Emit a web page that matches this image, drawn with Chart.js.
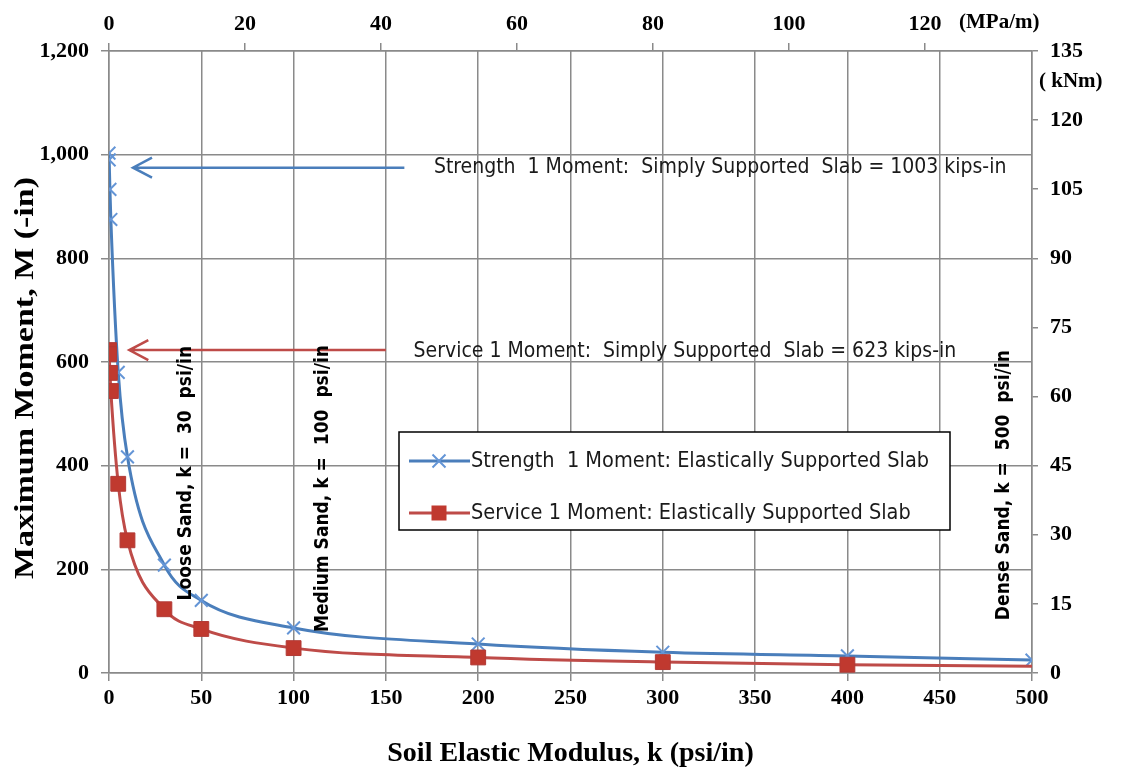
<!DOCTYPE html>
<html>
<head>
<meta charset="utf-8">
<script src="https://cdn.jsdelivr.net/npm/chart.js@4.4.1/dist/chart.umd.min.js"></script>
<style>
  html, body { margin: 0; padding: 0; background: #fff; }
  #chart { display: block; }
</style>
</head>
<body>
<canvas id="chart" width="1121" height="776"></canvas>
<script>
// soil modulus k (psi/in) and moments (kips-in)
const kValues = [0, 0.1, 0.5, 1, 5, 10, 30, 50, 100, 200, 300, 400, 500];
const strengthMoment = [1003, 990, 933, 875, 580, 417, 208, 140, 87, 56, 40, 33, 25];
const serviceMoment = [623, 615, 579, 544, 365, 256, 123, 85, 48, 30, 21, 16, 13];

// simply supported reference values
const strengthSimple = 1003;
const serviceSimple = 623;

// tick labels
const psiTicks = [0, 50, 100, 150, 200, 250, 300, 350, 400, 450, 500];
const mpaTicks = [0, 20, 40, 60, 80, 100, 120];
const momentTicks = [0, 200, 400, 600, 800, 1000, 1200];
const knmTicks = [0, 15, 30, 45, 60, 75, 90, 105, 120, 135];

// sand types marked on the chart
const sandLabels = ["Loose Sand, k =  30  psi/in", "Medium Sand, k =  100  psi/in", "Dense Sand, k =  500  psi/in"];
const sandK = [42, 116, 485];
const sandBottom = [140, 79, 102];

const BLUE = "#4a7ebb";
const RED = "#be4b48";
const GRID = "#8a8a8a";
const serif = "'Liberation Serif', 'Times New Roman', serif";
const narrow = "'Liberation Sans Narrow', 'DejaVu Sans Condensed', sans-serif";

const tickFont = { family: serif, size: 22, weight: "bold" };
const titleFont = { family: serif, size: 28, weight: "bold" };

const fixTicks = arr => scale => { scale.ticks = arr.map(v => ({ value: v })); };

// === arrows, notes, legend ===
const extras = {
  id: "extras",
  afterDraw(chart) {
    const { ctx } = chart;
    const x = chart.scales.x, y = chart.scales.y;

    function arrow(yVal, kFrom, kTo, color) {
      const py = y.getPixelForValue(yVal);
      const x1 = x.getPixelForValue(kFrom), x2 = x.getPixelForValue(kTo);
      ctx.save();
      ctx.strokeStyle = color;
      ctx.lineWidth = 2.5;
      ctx.beginPath();
      ctx.moveTo(x1, py);
      ctx.lineTo(x2, py);
      ctx.moveTo(x2 + 19, py - 10);
      ctx.lineTo(x2, py);
      ctx.lineTo(x2 + 19, py + 10);
      ctx.stroke();
      ctx.restore();
    }
    arrow(975, 160, 13, BLUE);
    arrow(serviceSimple, 150, 11, RED);

    ctx.save();
    ctx.fillStyle = "#1a1a1a";
    ctx.font = "21px " + narrow;
    ctx.textBaseline = "middle";
    ctx.textAlign = "left";
    ctx.fillText("Strength  1 Moment:  Simply Supported  Slab = " + strengthSimple + " kips-in",
      x.getPixelForValue(176), y.getPixelForValue(975));
    ctx.fillText("Service 1 Moment:  Simply Supported  Slab = " + serviceSimple + " kips-in",
      x.getPixelForValue(165), y.getPixelForValue(serviceSimple) + 1);

    // vertical sand labels
    ctx.font = "bold 19px " + narrow;
    ctx.fillStyle = "#000";
    sandLabels.forEach((t, i) => {
      ctx.save();
      ctx.translate(x.getPixelForValue(sandK[i]), y.getPixelForValue(sandBottom[i]));
      ctx.rotate(-Math.PI / 2);
      ctx.fillText(t, 0, 0);
      ctx.restore();
    });

    // y axis title, stretched along its length like the original
    ctx.save();
    ctx.font = "bold 28px " + serif;
    ctx.textAlign = "center";
    const yt = "Maximum Moment, M (-in)";
    const stretch = 402 / ctx.measureText(yt).width;
    ctx.translate(26, 378);
    ctx.rotate(-Math.PI / 2);
    ctx.scale(stretch, 1);
    ctx.fillText(yt, 0, 0);
    ctx.restore();

    // unit labels on secondary axes
    ctx.font = "bold 21px " + serif;
    ctx.fillText("(MPa/m)", chart.chartArea.right - 73, 23);
    ctx.fillText("( kNm)", chart.chartArea.right + 7, 82);
    ctx.restore();

    // legend box
    const bx = 399, by = 432, bw = 551, bh = 98;
    ctx.save();
    ctx.fillStyle = "#fff";
    ctx.fillRect(bx, by, bw, bh);
    ctx.strokeStyle = "#000";
    ctx.lineWidth = 1.5;
    ctx.strokeRect(bx, by, bw, bh);
    const rows = [by + 29, by + 81];
    chart.data.datasets.slice().sort((a, b) => b.order - a.order).forEach((ds, i) => {
      const ly = rows[i];
      ctx.strokeStyle = ds.borderColor;
      ctx.lineWidth = 3;
      ctx.beginPath();
      ctx.moveTo(409, ly);
      ctx.lineTo(470, ly);
      ctx.stroke();
      ctx.fillStyle = ds.pointBackgroundColor;
      ctx.strokeStyle = ds.pointBorderColor;
      ctx.lineWidth = ds.pointBorderWidth;
      ctx.beginPath();
      if (ds.pointStyle === "rect") {
        ctx.fillRect(439 - 7.5, ly - 7.5, 15, 15);
      } else {
        ctx.moveTo(439 - 6.5, ly - 6.5); ctx.lineTo(439 + 6.5, ly + 6.5);
        ctx.moveTo(439 - 6.5, ly + 6.5); ctx.lineTo(439 + 6.5, ly - 6.5);
        ctx.stroke();
      }
      ctx.fillStyle = "#1a1a1a";
      ctx.font = "21.5px " + narrow;
      ctx.textBaseline = "middle";
      ctx.fillText(ds.label, 471, ly);
    });
    ctx.restore();
  }
};

const ctx = document.getElementById("chart").getContext("2d");
new Chart(ctx, {
  type: "line",
  data: {
    datasets: [
      {
        label: "Strength  1 Moment: Elastically Supported Slab",
        data: kValues.map((k, i) => ({ x: k, y: strengthMoment[i] })),
        borderColor: BLUE,
        borderWidth: 3,
        pointStyle: "crossRot",
        pointRadius: 9,
        pointBorderColor: "#6495d6",
        pointBackgroundColor: "#6495d6",
        pointBorderWidth: 2,
        cubicInterpolationMode: "monotone",
        fill: false,
        order: 1
      },
      {
        label: "Service 1 Moment: Elastically Supported Slab",
        data: kValues.map((k, i) => ({ x: k, y: serviceMoment[i] })),
        borderColor: RED,
        borderWidth: 3,
        pointStyle: "rect",
        pointRadius: kValues.map((k, i) => i === kValues.length - 1 ? 0 : 10.5),
        pointBorderColor: "#b23a36",
        pointBackgroundColor: "#c0392f",
        pointBorderWidth: 1,
        cubicInterpolationMode: "monotone",
        fill: false,
        order: 0
      }
    ]
  },
  options: {
    responsive: false,
    animation: false,
    devicePixelRatio: 1,
    layout: { padding: 0 },
    plugins: { legend: { display: false }, tooltip: { enabled: false } },
    scales: {
      x: {
        type: "linear", position: "bottom", min: 0, max: 500,
        afterBuildTicks: fixTicks(psiTicks),
        afterFit: s => { s.height = 103; },
        ticks: { font: tickFont, color: "#000", padding: 4, maxRotation: 0 },
        grid: { color: GRID, lineWidth: 1.5, tickLength: 8 },
        border: { color: GRID, width: 1.5 },
        title: { display: true, text: "Soil Elastic Modulus, k (psi/in)", font: titleFont, color: "#000", padding: { bottom: 5 } }
      },
      xTop: {
        type: "linear", position: "top", min: 0, max: 500 * 0.27145,
        afterBuildTicks: fixTicks(mpaTicks),
        afterFit: s => { s.height = 51; },
        ticks: { font: tickFont, color: "#000", padding: 5, maxRotation: 0 },
        grid: { drawOnChartArea: false, color: GRID, lineWidth: 1.5, tickLength: 8 },
        border: { color: GRID, width: 1.5 }
      },
      y: {
        type: "linear", position: "left", min: 0, max: 1200,
        afterBuildTicks: fixTicks(momentTicks),
        afterFit: s => { s.width = 109; },
        ticks: { font: tickFont, color: "#000", padding: 12, callback: v => v.toLocaleString("en-US") },
        grid: { color: GRID, lineWidth: 1.5, tickLength: 8 },
        border: { color: GRID, width: 1.5 }
      },
      y2: {
        type: "linear", position: "right", min: 0, max: 135,
        afterBuildTicks: fixTicks(knmTicks),
        afterFit: s => { s.width = 89; },
        ticks: { font: tickFont, color: "#000", padding: 12 },
        grid: { drawOnChartArea: false, color: GRID, lineWidth: 1.5, tickLength: 6 },
        border: { color: GRID, width: 1.5 }
      }
    }
  },
  plugins: [extras]
});
</script>
</body>
</html>
